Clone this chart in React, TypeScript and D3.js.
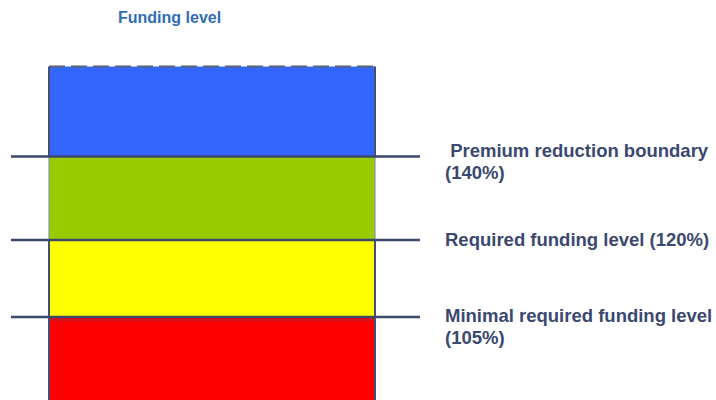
import React from "react";
import * as d3 from "d3";

// ---- data ----
const zoneBounds = [100, 105, 120, 140, 160]; // funding level %
const zoneColors = ["#ff0000", "#ffff00", "#99cc00", "#3366ff"];
const thresholds = [105, 120, 140];
const thresholdLabels = [
  ["Minimal required funding level", "(105%)"],
  ["Required funding level (120%)"],
  [" Premium reduction boundary", "(140%)"],
];
const title = "Funding level";

// ---- layout ----
const W = 716;
const H = 400;
const barLeft = 49;
const barRight = 375;
const lineLeft = 11;
const lineRight = 420;
const labelX = 445;
const labelDy = [5, 6, 0.5];
const lineGap = 21.5;
const edge = "#454f70";
const lineColor = "#3c4a6e";
const textColor = "#3b4870";

export default function App() {
  const y = d3
    .scaleLinear()
    .domain(zoneBounds)
    .range([404, 317, 240, 156.5, 66.5]);

  const zones = zoneColors.map((c, i) => ({
    lo: zoneBounds[i],
    hi: zoneBounds[i + 1],
    color: c,
  }));

  return (
    <svg
      width={W}
      height={H}
      style={{ position: "absolute", left: 0, top: 0, display: "block" }}
      fontFamily="'Liberation Sans', Arial, sans-serif"
    >
      <rect x={0} y={0} width={W} height={H} fill="#ffffff" />
      <text x={118} y={23} fontSize={16} fontWeight="bold" fill="#2f6db5">
        {title}
      </text>

      {zones.map((z, i) => (
        <rect
          key={i}
          x={barLeft}
          y={y(z.hi)}
          width={barRight - barLeft}
          height={y(z.lo) - y(z.hi)}
          fill={z.color}
          stroke="none"
        />
      ))}
      {/* side edges */}
      {zones.map((z, i) => (
        <g key={"e" + i} stroke={i === 2 ? "#8a90a8" : edge} strokeWidth={i === 2 ? 1.2 : 2}>
          <line x1={barLeft} x2={barLeft} y1={y(z.hi)} y2={y(z.lo)} />
          <line x1={barRight} x2={barRight} y1={y(z.hi)} y2={y(z.lo)} />
        </g>
      ))}
      {/* dashed top */}
      <line
        x1={barLeft}
        x2={barRight}
        y1={y(zoneBounds[zoneBounds.length - 1])}
        y2={y(zoneBounds[zoneBounds.length - 1])}
        stroke="#5a6070"
        strokeWidth={2}
        strokeDasharray="16 6"
      />
      {/* red top border */}
      <line
        x1={barLeft}
        x2={barRight}
        y1={y(105) + 3}
        y2={y(105) + 3}
        stroke="#4a5578"
        strokeWidth={1}
        opacity={0.6}
      />

      {thresholds.map((t, i) => (
        <g key={"t" + i}>
          <line
            x1={lineLeft}
            x2={lineRight}
            y1={y(t)}
            y2={y(t)}
            stroke={lineColor}
            strokeWidth={2.5}
          />
          <text
            x={labelX}
            y={y(t) + labelDy[i]}
            fontSize={18.5}
            fontWeight="bold"
            fill={textColor}
            style={{ whiteSpace: "pre" }}
          >
            {thresholdLabels[i].map((s, j) => (
              <tspan key={j} x={labelX} dy={j === 0 ? 0 : lineGap} xmlSpace="preserve">
                {s}
              </tspan>
            ))}
          </text>
        </g>
      ))}
    </svg>
  );
}
